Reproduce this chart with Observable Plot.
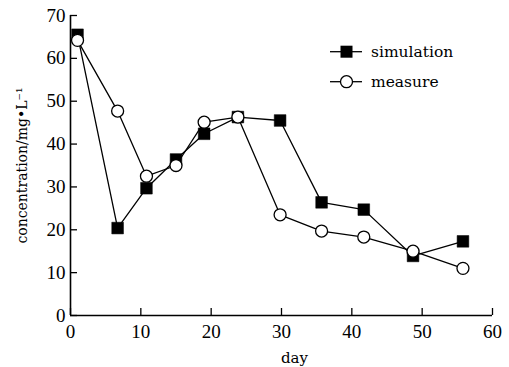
<!DOCTYPE html>
<html>
<head>
<meta charset="utf-8">
<script src="https://cdn.jsdelivr.net/npm/d3@7"></script>
<script src="https://cdn.jsdelivr.net/npm/@observablehq/plot@0.6"></script>
<style>
  html, body { margin: 0; padding: 0; background: #fff; }
  #wrap { position: relative; width: 509px; height: 367px; }
  #legend { position: absolute; left: 0; top: 0; pointer-events: none; }
</style>
</head>
<body>
<div id="wrap"></div>
<script>
// Data
const days = [1, 6.7, 10.8, 15, 19, 23.8, 29.8, 35.7, 41.7, 48.7, 55.8];
const simulation = [65.5, 20.4, 29.7, 36.4, 42.4, 46.3, 45.5, 26.4, 24.7, 13.9, 17.3];
const measure = [64.2, 47.7, 32.5, 35, 45.1, 46.3, 23.5, 19.7, 18.3, 15, 11];
const xTicks = [0, 10, 20, 30, 40, 50, 60];
const yTicks = [0, 10, 20, 30, 40, 50, 60, 70];
const seriesNames = ["simulation", "measure"];

const simData = days.map((d, i) => ({day: d, value: simulation[i]}));
const meaData = days.map((d, i) => ({day: d, value: measure[i]}));

const W = 509, H = 367;
const mL = 70, mR = 17, mT = 15, mB = 52;
const innerW = W - mL - mR, innerH = H - mT - mB;
const tickFont = "'Liberation Serif', 'DejaVu Serif', serif";
const textFont = "'DejaVu Serif', 'Liberation Serif', serif";

const chart = Plot.plot({
  width: W,
  height: H,
  marginLeft: mL,
  marginRight: mR,
  marginTop: mT,
  marginBottom: mB,
  style: {fontFamily: tickFont, fontSize: "19px", color: "#000", background: "#fff"},
  x: {domain: [0, 60]},
  y: {domain: [0, 70]},
  marks: [
    Plot.axisX({ticks: xTicks, tickSize: 0, tickPadding: 9, label: null, fontSize: 19}),
    Plot.axisY({ticks: yTicks, tickSize: 0, tickPadding: 5, fontSize: 19,
      label: "concentration/mg•L⁻¹", labelArrow: "none", labelAnchor: "center", labelOffset: 53}),
    Plot.tickX(xTicks, {x: d => d, insetTop: innerH - 7, stroke: "#000", strokeWidth: 1.3}),
    Plot.tickY(yTicks, {y: d => d, insetRight: innerW - 7, stroke: "#000", strokeWidth: 1.3}),
    Plot.ruleX([0], {stroke: "#000", strokeWidth: 1.6}),
    Plot.ruleY([0], {stroke: "#000", strokeWidth: 1.6}),
    Plot.text(["day"], {frameAnchor: "bottom", dx: 13, dy: 47, text: d => d, fontSize: 15, fontFamily: textFont, fill: "#000"}),
    Plot.line(simData, {x: "day", y: "value", stroke: "#000", strokeWidth: 1.3}),
    Plot.line(meaData, {x: "day", y: "value", stroke: "#000", strokeWidth: 1.3}),
    Plot.dot(simData, {x: "day", y: "value", symbol: "square", r: 6.6, fill: "#000", stroke: "#000", strokeWidth: 0.5}),
    Plot.dot(meaData, {x: "day", y: "value", symbol: "circle", r: 6, fill: "#fff", stroke: "#000", strokeWidth: 1.3})
  ]
});
// y-axis label font
chart.querySelectorAll("g[aria-label='y-axis label']").forEach(g => {
  g.setAttribute("font-size", "14");
  g.setAttribute("font-family", textFont);
});
document.getElementById("wrap").appendChild(chart);

// Legend overlay (inside the plot area, top right)
const ns = "http://www.w3.org/2000/svg";
const lg = document.createElementNS(ns, "svg");
lg.setAttribute("id", "legend");
lg.setAttribute("width", W);
lg.setAttribute("height", H);
const rows = [
  {name: seriesNames[0], y: 51.7, sym: "square"},
  {name: seriesNames[1], y: 81.7, sym: "circle"}
];
for (const r of rows) {
  const line = document.createElementNS(ns, "line");
  line.setAttribute("x1", 330); line.setAttribute("x2", 362);
  line.setAttribute("y1", r.y); line.setAttribute("y2", r.y);
  line.setAttribute("stroke", "#000"); line.setAttribute("stroke-width", 1.3);
  lg.appendChild(line);
  if (r.sym === "square") {
    const s = document.createElementNS(ns, "rect");
    s.setAttribute("x", 346.5 - 6); s.setAttribute("y", r.y - 6);
    s.setAttribute("width", 12); s.setAttribute("height", 12);
    s.setAttribute("fill", "#000");
    lg.appendChild(s);
  } else {
    const c = document.createElementNS(ns, "circle");
    c.setAttribute("cx", 346.5); c.setAttribute("cy", r.y); c.setAttribute("r", 6);
    c.setAttribute("fill", "#fff"); c.setAttribute("stroke", "#000"); c.setAttribute("stroke-width", 1.3);
    lg.appendChild(c);
  }
  const t = document.createElementNS(ns, "text");
  t.setAttribute("x", 371); t.setAttribute("y", r.y + 5);
  t.setAttribute("font-family", "DejaVu Serif, Liberation Serif, serif");
  t.setAttribute("font-size", "15.5");
  t.setAttribute("fill", "#000");
  t.textContent = r.name;
  lg.appendChild(t);
}
document.getElementById("wrap").appendChild(lg);
</script>
</body>
</html>
